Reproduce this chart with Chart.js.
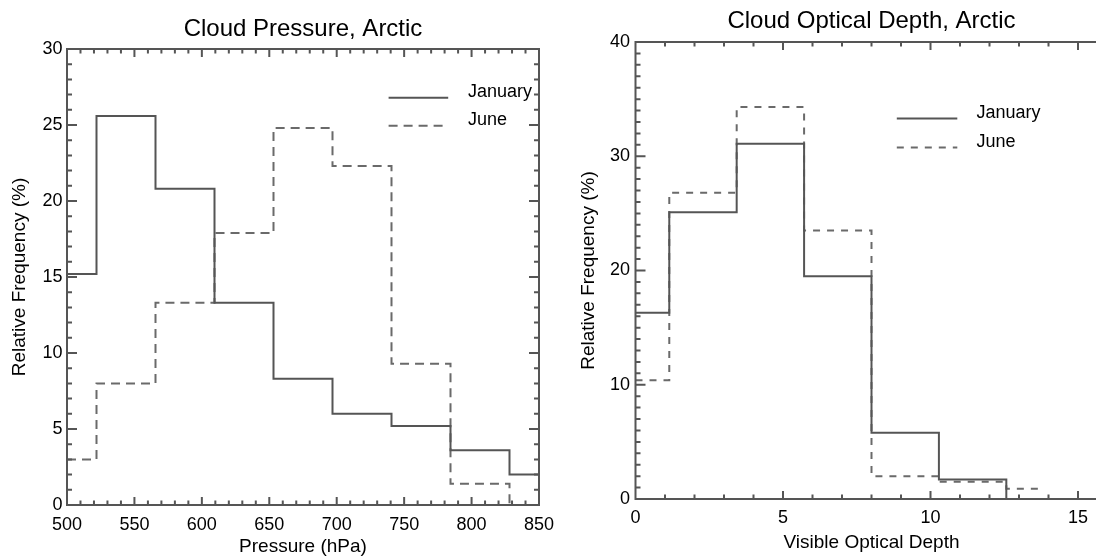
<!DOCTYPE html>
<html>
<head>
<meta charset="utf-8">
<title>Arctic cloud histograms</title>
<script src="https://cdn.jsdelivr.net/npm/chart.js@4.4.1/dist/chart.umd.min.js"></script>
<style>
    html, body { margin: 0; padding: 0; background: #fff; overflow: hidden; }
    .wrap { position: relative; width: 1096px; height: 556px; overflow: hidden; }
    canvas { position: absolute; top: 0; }
    #pressure-chart { left: 0; }
    #depth-chart { left: 560px; }
</style>
</head>
<body>
<div class="wrap">
    <canvas id="pressure-chart" width="580" height="556"></canvas>
    <canvas id="depth-chart" width="623" height="556"></canvas>
</div>
<script>
// bin centres and relative frequencies (%)
const pressureBins = [500, 543.75, 587.5, 631.25, 675, 718.75, 762.5, 806.25, 850];
const pressureJan = [15.2, 25.6, 20.8, 13.3, 8.3, 6.0, 5.2, 3.6, 2.0];
const pressureJun = [3.0, 8.0, 13.3, 17.9, 24.8, 22.3, 9.3, 1.4, 0.0];

const depthBins = [0, 2.29, 4.57, 6.86, 9.14, 11.43, 13.71];
const depthJan = [16.3, 25.1, 31.1, 19.5, 5.8, 1.7, 0.0];
const depthJun = [10.4, 26.8, 34.3, 23.5, 2.0, 1.5, 0.9];

const pressureTicks = [500, 550, 600, 650, 700, 750, 800, 850];
const pressureFreqTicks = [0, 5, 10, 15, 20, 25, 30];
const depthTicks = [0, 5, 10, 15];
const depthFreqTicks = [0, 10, 20, 30, 40];

const FONT = '"Liberation Sans", Arial, Helvetica, sans-serif';
const JAN_COLOR = '#555555';
const JUN_COLOR = '#6a6a6a';
const AXIS_COLOR = '#555555';

Chart.defaults.font.family = FONT;
Chart.defaults.color = '#000';

function isMajor(v, step) {
    const r = v / step;
    return Math.abs(r - Math.round(r)) < 1e-6;
}

// IDL style box with inward ticks on every side
const idlFrame = {
    id: 'idlFrame',
    afterDatasetsDraw(chart, args, opts) {
        const ctx = chart.ctx;
        const a = chart.chartArea;
        const x = chart.scales.x;
        const y = chart.scales.y;
        ctx.save();
        ctx.strokeStyle = AXIS_COLOR;
        ctx.lineWidth = 2;
        ctx.setLineDash([]);
        ctx.beginPath();
        ctx.rect(a.left, a.top, a.right - a.left, a.bottom - a.top);
        for (let v = x.min; v <= x.max + 1e-6; v += opts.xMinor) {
            const px = x.getPixelForValue(v);
            const len = isMajor(v, opts.xMajor) ? 8 : 4.5;
            ctx.moveTo(px, a.bottom);
            ctx.lineTo(px, a.bottom - len);
            ctx.moveTo(px, a.top);
            ctx.lineTo(px, a.top + len);
        }
        for (let v = y.min; v <= y.max + 1e-6; v += opts.yMinor) {
            const py = y.getPixelForValue(v);
            const len = isMajor(v, opts.yMajor) ? 10 : 5;
            ctx.moveTo(a.left, py);
            ctx.lineTo(a.left + len, py);
            ctx.moveTo(a.right, py);
            ctx.lineTo(a.right - len, py);
        }
        ctx.stroke();
        ctx.restore();
    }
};

// line sample followed by the series name, as in the IDL legend
const idlLegend = {
    id: 'idlLegend',
    afterDraw(chart, args, opts) {
        const ctx = chart.ctx;
        ctx.save();
        ctx.font = '18px ' + FONT;
        ctx.textBaseline = 'middle';
        ctx.textAlign = 'left';
        ctx.fillStyle = '#000';
        chart.data.datasets.forEach((ds, i) => {
            const ly = opts.y + i * opts.rowGap;
            ctx.strokeStyle = ds.borderColor;
            ctx.lineWidth = ds.borderWidth;
            ctx.setLineDash(ds.borderDash || []);
            ctx.beginPath();
            ctx.moveTo(opts.x1, ly);
            ctx.lineTo(opts.x2, ly);
            ctx.stroke();
            ctx.fillText(ds.label, opts.textX, ly - opts.textRise);
        });
        ctx.restore();
    }
};

function toPoints(xs, ys) {
    return xs.map((x, i) => ({ x: x, y: ys[i] }));
}

function makeChart(id, c) {
    const ctx = document.getElementById(id).getContext('2d');
    return new Chart(ctx, {
        type: 'line',
        data: {
            datasets: [{
                label: 'January',
                data: toPoints(c.bins, c.jan),
                borderColor: JAN_COLOR,
                borderWidth: 2,
                stepped: 'middle',
                pointRadius: 0
            }, {
                label: 'June',
                data: toPoints(c.bins, c.jun),
                borderColor: JUN_COLOR,
                borderWidth: 2,
                borderDash: c.dash,
                stepped: 'middle',
                pointRadius: 0
            }]
        },
        options: {
            responsive: false,
            animation: false,
            devicePixelRatio: 1,
            layout: { padding: { left: 0, right: c.padRight, top: 0, bottom: 0 } },
            plugins: {
                legend: { display: false },
                tooltip: { enabled: false },
                title: {
                    display: true,
                    fullSize: false,
                    text: c.title,
                    color: '#000',
                    font: { size: 24, weight: 'normal', lineHeight: 1.2 },
                    padding: { top: c.titleTop, bottom: c.titleBottom }
                },
                idlFrame: { xMinor: c.xMinor, xMajor: c.xMajor, yMinor: 1, yMajor: c.yMajor },
                idlLegend: c.legend
            },
            scales: {
                x: {
                    type: 'linear',
                    min: c.xMin,
                    max: c.xMax,
                    grid: { display: false, drawTicks: false },
                    border: { display: false },
                    afterBuildTicks: axis => { axis.ticks = c.xTicks.map(v => ({ value: v })); },
                    afterFit: axis => { axis.height = c.xHeight; },
                    ticks: { padding: c.xTickPad, maxRotation: 0, font: { size: 18 }, color: '#000' },
                    title: {
                        display: true,
                        text: c.xTitle,
                        color: '#000',
                        font: { size: 19, lineHeight: 1 },
                        padding: { top: 0, bottom: c.xTitlePad }
                    }
                },
                y: {
                    min: 0,
                    max: c.yMax,
                    grid: { display: false, drawTicks: false },
                    border: { display: false },
                    afterBuildTicks: axis => { axis.ticks = c.yTicks.map(v => ({ value: v })); },
                    afterFit: axis => { axis.width = c.yWidth; },
                    ticks: { padding: c.yTickPad, font: { size: 18 }, color: '#000' },
                    title: {
                        display: true,
                        text: 'Relative Frequency (%)',
                        color: '#000',
                        font: { size: 19, lineHeight: 1 },
                        padding: { top: c.yTitlePad, bottom: 0 }
                    }
                }
            }
        },
        plugins: [idlFrame, idlLegend]
    });
}

makeChart('pressure-chart', {
    title: 'Cloud Pressure, Arctic',
    xTitle: 'Pressure (hPa)',
    bins: pressureBins, jan: pressureJan, jun: pressureJun,
    xTicks: pressureTicks, yTicks: pressureFreqTicks,
    xMin: 500, xMax: 850, xMinor: 10, xMajor: 50,
    yMax: 30, yMajor: 5,
    dash: [9, 6],
    padRight: 41,
    titleTop: 14.9, titleBottom: 5.3,
    xHeight: 51, xTickPad: 9, xTitlePad: 0,
    yWidth: 67, yTickPad: 4.5, yTitlePad: 10,
    legend: { x1: 388.6, x2: 448.2, y: 97.7, rowGap: 28, textX: 468, textRise: 6 }
});

makeChart('depth-chart', {
    title: 'Cloud Optical Depth, Arctic',
    xTitle: 'Visible Optical Depth',
    bins: depthBins, jan: depthJan, jun: depthJun,
    xTicks: depthTicks, yTicks: depthFreqTicks,
    xMin: 0, xMax: 16, xMinor: 1, xMajor: 5,
    yMax: 40, yMajor: 10,
    dash: [7, 7],
    padRight: 75.5,
    titleTop: 7.3, titleBottom: 5.9,
    xHeight: 57, xTickPad: 8.5, xTitlePad: 4,
    yWidth: 75.5, yTickPad: 5.5, yTitlePad: 19,
    legend: { x1: 336.8, x2: 397.3, y: 118.5, rowGap: 29, textX: 416.5, textRise: 5.5 }
});
</script>
</body>
</html>
